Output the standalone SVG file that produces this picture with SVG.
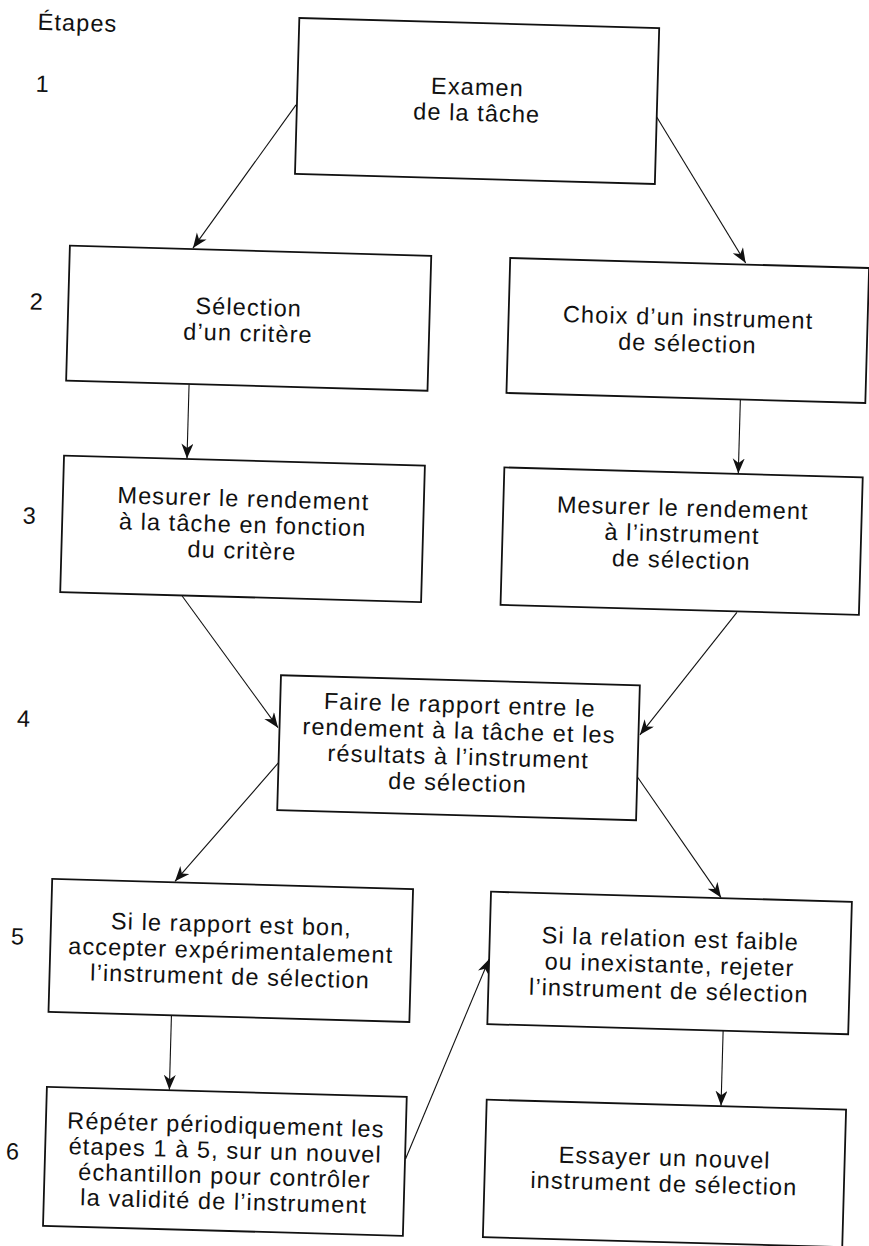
<svg xmlns="http://www.w3.org/2000/svg" width="869" height="1246" viewBox="0 0 869 1246">
<style>
.box{fill:#fff;stroke:#111;stroke-width:1.8}
.t{font-family:"Liberation Sans",Arial,Helvetica,sans-serif;font-size:23.5px;letter-spacing:1.1px;fill:#111;text-anchor:middle}
.lab{font-family:"Liberation Sans",Arial,Helvetica,sans-serif;font-size:23.5px;letter-spacing:1.1px;fill:#111}
.c{fill:none;stroke:#111;stroke-width:1.1;marker-end:url(#ah)}
</style>
<defs>
<marker id="ah" markerUnits="userSpaceOnUse" markerWidth="18" markerHeight="14" refX="15" refY="6" orient="auto">
<path d="M0,0 L15,6 L0,12 L4.5,6 Z" fill="#111"/>
</marker>
</defs>
<rect width="869" height="1246" fill="#fff"/>
<g transform="rotate(1.6 434 623)">
<g id="labels">
<text class="lab" x="21" y="41">Étapes</text>
<text class="t" x="28" y="103">1</text>
<text class="t" x="28" y="321">2</text>
<text class="t" x="27" y="535">3</text>
<text class="t" x="27" y="738">4</text>
<text class="t" x="27" y="956">5</text>
<text class="t" x="28" y="1171">6</text>
</g>
<g id="connectors">
<line class="c" x1="281.6" y1="109" x2="182.6" y2="255"/>
<line class="c" x1="642.5" y1="111" x2="735.5" y2="254.5"/>
<line class="c" x1="182.5" y1="391.5" x2="182.5" y2="465.5"/>
<line class="c" x1="734" y1="391" x2="734" y2="465"/>
<line class="c" x1="181.5" y1="603" x2="281" y2="732"/>
<line class="c" x1="736.5" y1="604" x2="643" y2="729"/>
<line class="c" x1="282.5" y1="767" x2="182.3" y2="888.5"/>
<line class="c" x1="641.5" y1="771" x2="728.6" y2="889.5"/>
<line class="c" x1="182.5" y1="1022.5" x2="182.5" y2="1097"/>
<line class="c" x1="420.5" y1="1159.5" x2="498.4" y2="957.5"/>
<line class="c" x1="734.4" y1="1022.3" x2="734.4" y2="1097.5"/>
</g>
<g id="n1">
<rect class="box" x="282.5" y="22" width="360" height="156"/>
<text class="t" x="462.5" y="94">Examen</text>
<text class="t" x="462.5" y="120">de la tâche</text>
</g>
<g id="n2l">
<rect class="box" x="59.5" y="256" width="361.5" height="135"/>
<text class="t" x="240" y="320.5">Sélection</text>
<text class="t" x="240" y="346.5">d’un critère</text>
</g>
<g id="n2r">
<rect class="box" x="500" y="256" width="359" height="135"/>
<text class="t" x="679.5" y="318.5">Choix d’un instrument</text>
<text class="t" x="679.5" y="344.5">de sélection</text>
</g>
<g id="n3l">
<rect class="box" x="59.5" y="466" width="361" height="136.5"/>
<text class="t" x="240" y="512">Mesurer le rendement</text>
<text class="t" x="240" y="538">à la tâche en fonction</text>
<text class="t" x="240" y="564">du critère</text>
</g>
<g id="n3r">
<rect class="box" x="500" y="465.5" width="358.5" height="137.5"/>
<text class="t" x="679.5" y="509">Mesurer le rendement</text>
<text class="t" x="679.5" y="535">à l’instrument</text>
<text class="t" x="679.5" y="561">de sélection</text>
</g>
<g id="n4">
<rect class="box" x="282.5" y="679.5" width="359" height="135"/>
<text class="t" x="462" y="712">Faire le rapport entre le</text>
<text class="t" x="462" y="738">rendement à la tâche et les</text>
<text class="t" x="462" y="764">résultats à l’instrument</text>
<text class="t" x="462" y="790">de sélection</text>
</g>
<g id="n5l">
<rect class="box" x="59.5" y="889.5" width="361" height="133"/>
<text class="t" x="240" y="938">Si le rapport est bon,</text>
<text class="t" x="240" y="964">accepter expérimentalement</text>
<text class="t" x="240" y="990">l’instrument de sélection</text>
</g>
<g id="n5r">
<rect class="box" x="498.5" y="890" width="361" height="132.5"/>
<text class="t" x="679" y="940">Si la relation est faible</text>
<text class="t" x="679" y="966">ou inexistante, rejeter</text>
<text class="t" x="679" y="992">l’instrument de sélection</text>
</g>
<g id="n6l">
<rect class="box" x="60" y="1097.5" width="360" height="139"/>
<text class="t" x="240" y="1138.5">Répéter périodiquement les</text>
<text class="t" x="240" y="1164">étapes 1 à 5, sur un nouvel</text>
<text class="t" x="240" y="1189.5">échantillon pour contrôler</text>
<text class="t" x="240" y="1215">la validité de l’instrument</text>
</g>
<g id="n6r">
<rect class="box" x="500" y="1098" width="359.5" height="137.5"/>
<text class="t" x="679.5" y="1159">Essayer un nouvel</text>
<text class="t" x="679.5" y="1185">instrument de sélection</text>
</g>
</g>
</svg>
